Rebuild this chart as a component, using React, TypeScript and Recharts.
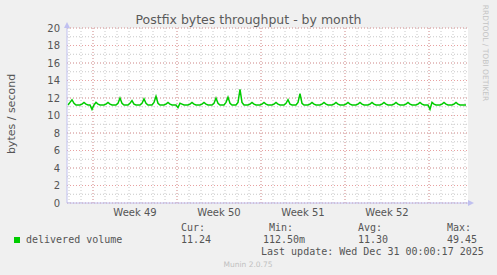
import React from "react";
import { LineChart, Line, XAxis, YAxis, CartesianGrid } from "recharts";

// 4-hour samples (hours 2, 6, 10, 14, 18, 22 of each day row), bytes / second
const dailySamples: number[][] = [
  [11.2, 11.5, 11.8, 11.4, 11.2, 11.2],
  [11.2, 11.3, 11.5, 11.3, 11.2, 11.2],
  [10.7, 11.2, 11.5, 11.3, 11.2, 11.2],
  [11.2, 11.3, 11.5, 11.3, 11.2, 11.2],
  [11.2, 11.4, 12.0, 11.4, 11.2, 11.2],
  [11.2, 11.4, 11.7, 11.3, 11.2, 11.2],
  [11.2, 11.4, 11.9, 11.4, 11.2, 11.2],
  [11.2, 11.5, 12.2, 11.4, 11.2, 11.2],
  [11.2, 11.3, 11.5, 11.3, 11.2, 11.2],
  [11.2, 10.9, 11.4, 11.3, 11.2, 11.2],
  [11.2, 11.3, 11.5, 11.3, 11.2, 11.2],
  [11.2, 11.3, 11.5, 11.3, 11.2, 11.2],
  [11.2, 11.4, 12.0, 11.4, 11.2, 11.2],
  [11.2, 11.5, 12.1, 11.4, 11.2, 11.2],
  [11.2, 11.5, 13.0, 11.5, 11.2, 11.2],
  [11.2, 11.3, 11.5, 11.3, 11.2, 11.2],
  [11.2, 11.3, 11.5, 11.3, 11.2, 11.2],
  [11.2, 11.3, 11.5, 11.3, 11.2, 11.2],
  [11.2, 11.4, 11.8, 11.3, 11.2, 11.2],
  [11.2, 11.5, 12.5, 11.4, 11.2, 11.2],
  [11.2, 11.3, 11.5, 11.3, 11.2, 11.2],
  [11.2, 11.3, 11.5, 11.3, 11.2, 11.2],
  [11.2, 11.3, 11.5, 11.3, 11.2, 11.2],
  [11.2, 11.3, 11.5, 11.3, 11.2, 11.2],
  [11.2, 11.3, 11.5, 11.3, 11.2, 11.2],
  [11.2, 11.3, 11.5, 11.3, 11.2, 11.2],
  [11.2, 11.3, 11.5, 11.3, 11.2, 11.2],
  [11.2, 11.3, 11.5, 11.3, 11.2, 11.2],
  [11.2, 11.3, 11.5, 11.3, 11.2, 11.2],
  [11.2, 11.3, 11.5, 11.3, 11.2, 11.2],
  [11.2, 10.7, 11.5, 11.3, 11.2, 11.2],
  [11.2, 11.3, 11.5, 11.3, 11.2, 11.2],
  [11.2, 11.3, 11.5, 11.3, 11.2, 11.2],
  [11.2, 11.2],
];

const weekTicks = [136, 304, 472, 640];
const weekLabels = ["Week 49", "Week 50", "Week 51", "Week 52"];
const weekStarts = [52, 220, 388, 556, 724];
const dayStarts = Array.from({ length: 34 }, (_, i) => 4 + i * 24);
const yTicks = [0, 2, 4, 6, 8, 10, 12, 14, 16, 18, 20];
const yMinor = Array.from({ length: 21 }, (_, i) => i);

const legendLabel = "delivered volume";
const stats = [
  { label: "Cur:", value: "11.24" },
  { label: "Min:", value: "112.50m" },
  { label: "Avg:", value: "11.30" },
  { label: "Max:", value: "49.45" },
];
const lastUpdate = "Last update: Wed Dec 31 00:00:17 2025";

const data = dailySamples.flat().map((v, i) => ({ t: 2 + i * 4, v }));

const sans = "DejaVu Sans";
const mono = "DejaVu Sans Mono";
const axisColor = "#c0c0f0";

export default function App() {
  return (
    <div style={{ position: "absolute", left: 0, top: 0, width: 497, height: 275, background: "#f0f0f0" }}>
      <LineChart width={497} height={275} data={data} margin={{ top: 28, right: 29, left: 0, bottom: 52 }}>
        <CartesianGrid
          fill="#ffffff"
          stroke="#c8c8c8"
          strokeDasharray="1 2"
          horizontalValues={yMinor}
          verticalValues={dayStarts}
        />
        <CartesianGrid
          stroke="#e8a0a0"
          strokeDasharray="1 2"
          horizontalValues={yTicks}
          verticalValues={weekStarts}
        />
        <XAxis
          dataKey="t"
          type="number"
          domain={[0, 802]}
          ticks={weekTicks}
          tickFormatter={(v: number) => weekLabels[weekTicks.indexOf(v)]}
          height={20}
          tickSize={0}
          tickMargin={6}
          axisLine={{ stroke: axisColor }}
          tick={{ fill: "#555", fontSize: 10, fontFamily: sans }}
          interval={0}
        />
        <YAxis
          domain={[0, 20]}
          ticks={yTicks}
          width={67}
          tickSize={0}
          tickMargin={7}
          axisLine={{ stroke: axisColor }}
          tick={{ fill: "#555", fontSize: 10, fontFamily: sans }}
          interval={0}
        />
        <Line
          dataKey="v"
          type="linear"
          stroke="#00cc00"
          strokeWidth={1.5}
          dot={false}
          isAnimationActive={false}
        />
      </LineChart>
      <svg width={497} height={275} style={{ position: "absolute", left: 0, top: 0, pointerEvents: "none" }}>
        <polygon points="64,28 70,28 67,22" fill={axisColor} />
        <polygon points="468,200 468,206 474,203" fill={axisColor} />
        <text x={248.5} y={24} textAnchor="middle" fontFamily={sans} fontSize={12.5} fill="#5a5a5a">
          Postfix bytes throughput - by month
        </text>
        <text
          x={15}
          y={114}
          textAnchor="middle"
          fontFamily={sans}
          fontSize={11}
          fill="#555"
          transform="rotate(-90 15 114)"
        >
          bytes / second
        </text>
        <text
          x={483}
          y={53}
          textAnchor="middle"
          fontFamily={sans}
          fontSize={7.5}
          fill="#c4c4c4"
          transform="rotate(90 483 53)"
        >
          RRDTOOL / TOBI OETIKER
        </text>
        <rect x={14} y={237} width={6} height={6} fill="#00cc00" />
        <text x={26} y={243} fontFamily={mono} fontSize={10} fill="#555">
          {legendLabel}
        </text>
        {stats.map((s, i) => (
          <g key={s.label}>
            <text x={[181, 269, 358, 447][i]} y={231} fontFamily={mono} fontSize={10} fill="#555">
              {s.label}
            </text>
            <text x={[181, 263, 358, 447][i]} y={243} fontFamily={mono} fontSize={10} fill="#555">
              {s.value}
            </text>
          </g>
        ))}
        <text x={261} y={255} fontFamily={mono} fontSize={10} fill="#555">
          {lastUpdate}
        </text>
        <text x={248} y={267} textAnchor="middle" fontFamily={sans} fontSize={7.5} fill="#c0c0c0">
          Munin 2.0.75
        </text>
      </svg>
    </div>
  );
}
